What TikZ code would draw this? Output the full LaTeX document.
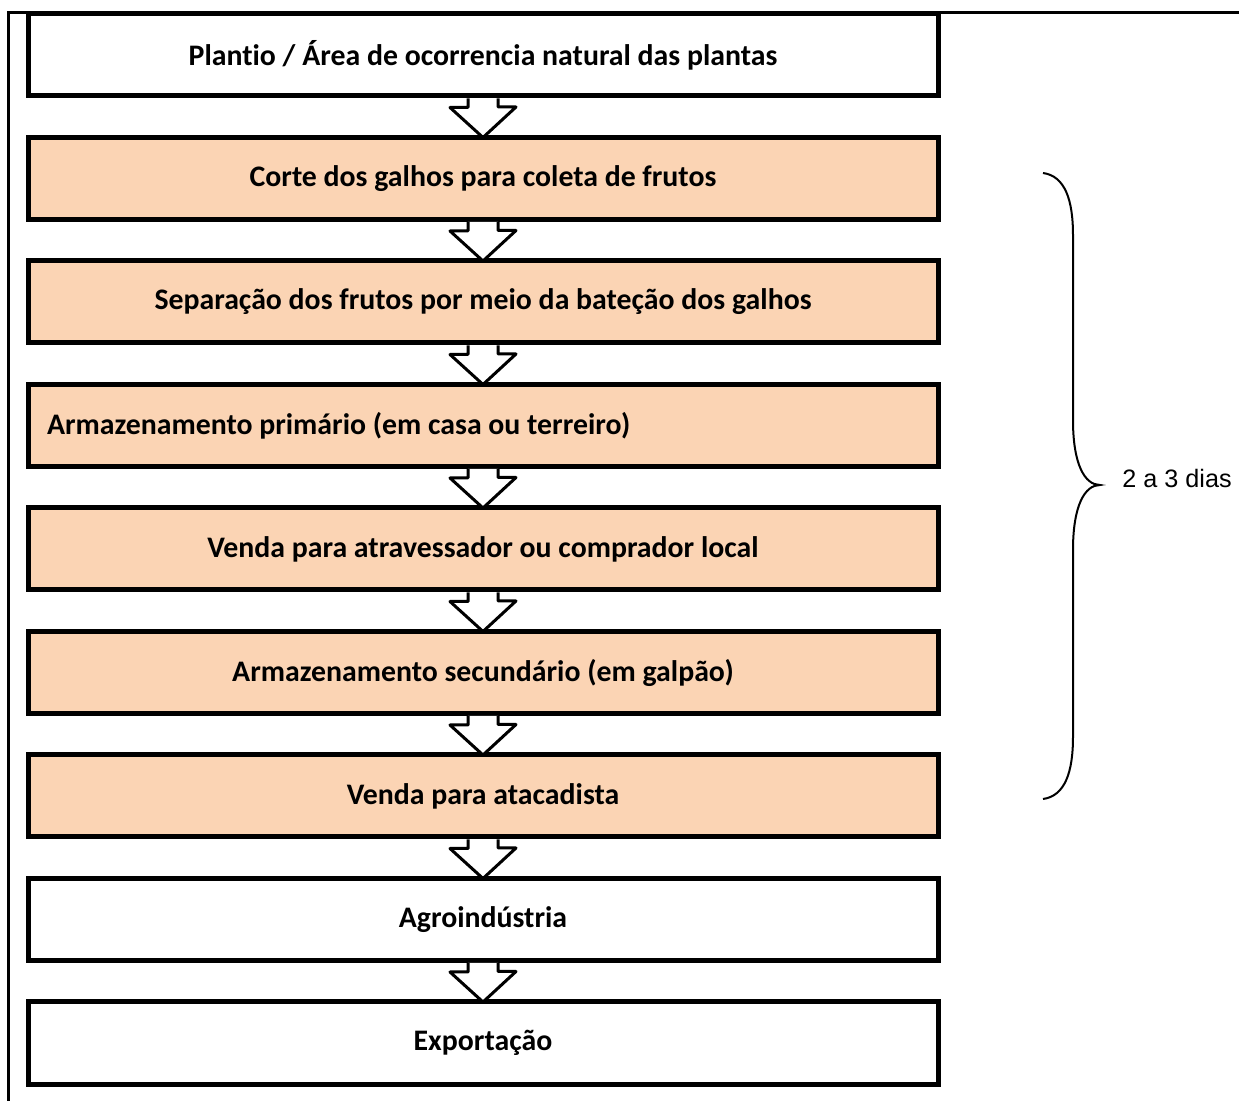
\documentclass[tikz,border=0pt]{standalone}
\usepackage{fontspec}
\setmainfont{Carlito}[Ligatures=NoCommon]
\newfontfamily\arialfont{Liberation Sans}
\usepackage{tikz}
\usetikzlibrary{positioning}
\usetikzlibrary{calc}

\definecolor{peach}{HTML}{FBD4B4}

\tikzset{
  stepbox/.style={draw, line width=2.5pt, fill=white, minimum width=455pt,
    minimum height=41pt, inner sep=0pt, outer sep=0pt,
    font=\fontsize{14.9}{17}\selectfont\bfseries},
  peachbox/.style={stepbox, fill=peach},
  flowarrow/.style={draw, line width=1.5pt, fill=white, line join=round},
  frame/.style={line width=1.1pt}
}

% block arrow from the bottom of #1 to the top of #2
\newcommand{\flowdown}[2]{%
  \draw[flowarrow] ($(#1.south)+(-15,2.5)$) -- ++(0,9) -- ++(-18,0)
    -- (#2.north) -- ($(#1.south)+(33,11)$) -- ++(-18,0) -- ++(0,-8.5);}

\begin{document}
\begin{tikzpicture}[x=0.5pt,y=-0.5pt,node distance=20.75pt]
\useasboundingbox (0,0) rectangle (1239,1101);
\draw[frame] (1239,12.5) -- (8.5,12.5) -- (8.5,1101);

\node[stepbox] (plantio) at (483,55) {Plantio / Área de ocorrencia natural das plantas};
\node[peachbox, below=of plantio] (corte) {Corte dos galhos para coleta de frutos};
\node[peachbox, below=of corte] (separacao) {Separação dos frutos por meio da bateção dos galhos};
\node[peachbox, below=of separacao] (armaz1) {\makebox[436pt][l]{Armazenamento primário (em casa ou terreiro)}};
\node[peachbox, below=of armaz1] (venda1) {Venda para atravessador ou comprador local};
\node[peachbox, below=of venda1] (armaz2) {Armazenamento secundário (em galpão)};
\node[peachbox, below=of armaz2] (venda2) {Venda para atacadista};
\node[stepbox, below=of venda2] (agro) {Agroindústria};
\node[stepbox, below=of agro] (export) {Exportação};

\foreach \a/\b in {plantio/corte, corte/separacao, separacao/armaz1, armaz1/venda1,
  venda1/armaz2, armaz2/venda2, venda2/agro, agro/export}
  \flowdown{\a}{\b};

% brace over the peach steps
\coordinate (btop) at (1043,173);
\coordinate (bbot) at (1043,799);
\coordinate (btip) at (1100,485);
\draw[line width=1pt] (btop) .. controls (1065,176) and (1073,200) .. (1073,235)
  -- (1073,420) .. controls (1073,465) and (1085,485) .. (btip)
  .. controls (1085,485) and (1073,505) .. (1073,550)
  -- (1073,737) .. controls (1073,772) and (1065,796) .. (bbot);
\node[anchor=base west, inner sep=0pt, font=\arialfont\fontsize{12.6}{15}\selectfont]
  (dias) at (1122,488) {2 a 3 dias};
\end{tikzpicture}
\end{document}
